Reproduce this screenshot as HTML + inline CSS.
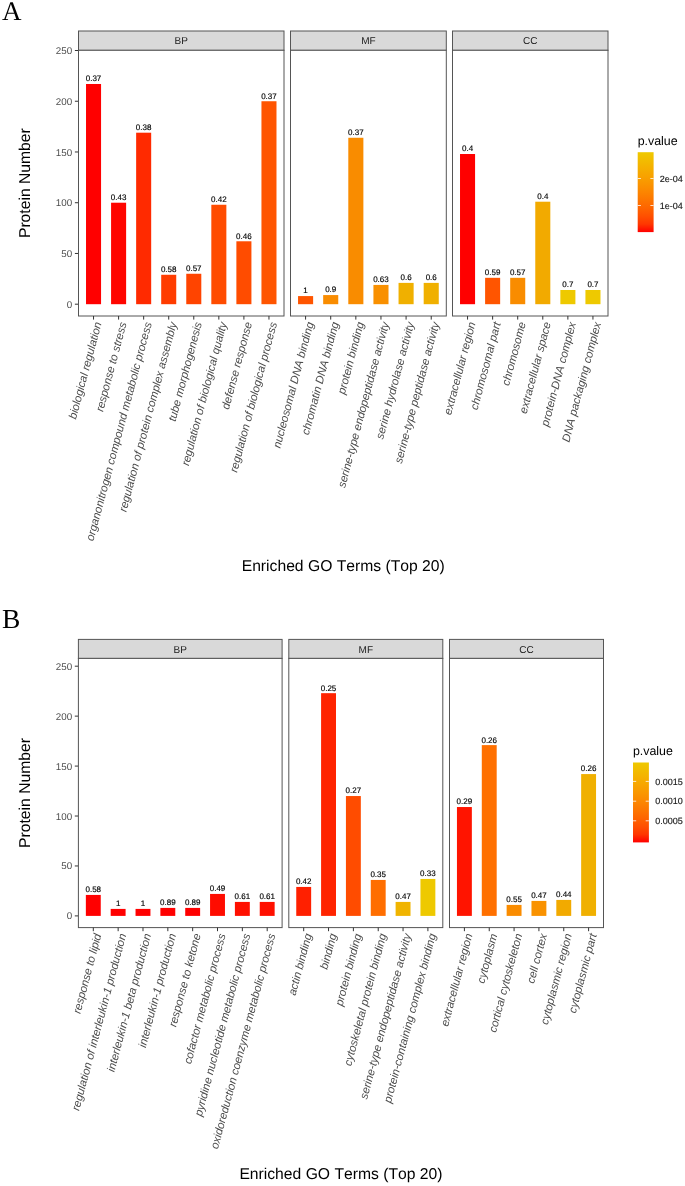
<!DOCTYPE html>
<html><head><meta charset="utf-8"><title>Enriched GO Terms</title>
<style>
html,body{margin:0;padding:0;background:#fff;width:685px;height:1186px;overflow:hidden;}
</style></head>
<body>
<svg width="685" height="1186" viewBox="0 0 685 1186" font-family='"Liberation Sans", sans-serif' style="display:block;will-change:transform;text-rendering:geometricPrecision;font-kerning:none;font-feature-settings:&quot;kern&quot; 0">
<rect width="685" height="1186" fill="#FFFFFF"/>
<text x="2" y="19.9" style='font-family:"Liberation Serif", serif' font-size="27" fill="#000">A</text>
<text x="72.2" y="307.73" font-size="9.8" fill="#4D4D4D" text-anchor="end">0</text>
<line x1="74.9" y1="304.2" x2="78.5" y2="304.2" stroke="#333" stroke-width="1"/>
<text x="72.2" y="256.99" font-size="9.8" fill="#4D4D4D" text-anchor="end">50</text>
<line x1="74.9" y1="253.46" x2="78.5" y2="253.46" stroke="#333" stroke-width="1"/>
<text x="72.2" y="206.25" font-size="9.8" fill="#4D4D4D" text-anchor="end">100</text>
<line x1="74.9" y1="202.72" x2="78.5" y2="202.72" stroke="#333" stroke-width="1"/>
<text x="72.2" y="155.51" font-size="9.8" fill="#4D4D4D" text-anchor="end">150</text>
<line x1="74.9" y1="151.98" x2="78.5" y2="151.98" stroke="#333" stroke-width="1"/>
<text x="72.2" y="104.77" font-size="9.8" fill="#4D4D4D" text-anchor="end">200</text>
<line x1="74.9" y1="101.24" x2="78.5" y2="101.24" stroke="#333" stroke-width="1"/>
<text x="72.2" y="54.03" font-size="9.8" fill="#4D4D4D" text-anchor="end">250</text>
<line x1="74.9" y1="50.5" x2="78.5" y2="50.5" stroke="#333" stroke-width="1"/>
<text transform="translate(30.1,183.15) rotate(-90)" font-size="15.7" fill="#000" text-anchor="middle">Protein Number</text>
<rect x="78.5" y="31" width="205.5" height="19.3" fill="#D9D9D9" stroke="#555555" stroke-width="1"/>
<text x="181.25" y="44.25" font-size="10.0" fill="#1A1A1A" text-anchor="middle">BP</text>
<rect x="78.5" y="50.3" width="205.5" height="265.7" fill="#FFFFFF" stroke="#555555" stroke-width="1"/>
<rect x="86.02" y="83.99" width="15.04" height="220.21" fill="#FF0000"/>
<text x="93.54" y="81.39" font-size="8.0" fill="#000" stroke="#000" stroke-width="0.15" text-anchor="middle">0.37</text>
<line x1="93.54" y1="316" x2="93.54" y2="319.6" stroke="#333" stroke-width="1"/>
<text transform="translate(93.54,321) rotate(-75.0)" font-size="11.3" font-style="italic" fill="#4D4D4D" text-anchor="end" dy="8.48">biological regulation</text>
<rect x="111.08" y="202.72" width="15.04" height="101.48" fill="#FF0500"/>
<text x="118.6" y="200.12" font-size="8.0" fill="#000" stroke="#000" stroke-width="0.15" text-anchor="middle">0.43</text>
<line x1="118.6" y1="316" x2="118.6" y2="319.6" stroke="#333" stroke-width="1"/>
<text transform="translate(118.6,321) rotate(-75.0)" font-size="11.3" font-style="italic" fill="#4D4D4D" text-anchor="end" dy="8.48">response to stress</text>
<rect x="136.14" y="132.7" width="15.04" height="171.5" fill="#FF2A00"/>
<text x="143.66" y="130.1" font-size="8.0" fill="#000" stroke="#000" stroke-width="0.15" text-anchor="middle">0.38</text>
<line x1="143.66" y1="316" x2="143.66" y2="319.6" stroke="#333" stroke-width="1"/>
<text transform="translate(143.66,321) rotate(-75.0)" font-size="11.3" font-style="italic" fill="#4D4D4D" text-anchor="end" dy="8.48">organonitrogen compound metabolic process</text>
<rect x="161.2" y="274.77" width="15.04" height="29.43" fill="#FF3C00"/>
<text x="168.72" y="272.17" font-size="8.0" fill="#000" stroke="#000" stroke-width="0.15" text-anchor="middle">0.58</text>
<line x1="168.72" y1="316" x2="168.72" y2="319.6" stroke="#333" stroke-width="1"/>
<text transform="translate(168.72,321) rotate(-75.0)" font-size="11.3" font-style="italic" fill="#4D4D4D" text-anchor="end" dy="8.48">regulation of protein complex assembly</text>
<rect x="186.26" y="273.76" width="15.04" height="30.44" fill="#FF4400"/>
<text x="193.78" y="271.16" font-size="8.0" fill="#000" stroke="#000" stroke-width="0.15" text-anchor="middle">0.57</text>
<line x1="193.78" y1="316" x2="193.78" y2="319.6" stroke="#333" stroke-width="1"/>
<text transform="translate(193.78,321) rotate(-75.0)" font-size="11.3" font-style="italic" fill="#4D4D4D" text-anchor="end" dy="8.48">tube morphogenesis</text>
<rect x="211.32" y="204.75" width="15.04" height="99.45" fill="#FF4C00"/>
<text x="218.84" y="202.15" font-size="8.0" fill="#000" stroke="#000" stroke-width="0.15" text-anchor="middle">0.42</text>
<line x1="218.84" y1="316" x2="218.84" y2="319.6" stroke="#333" stroke-width="1"/>
<text transform="translate(218.84,321) rotate(-75.0)" font-size="11.3" font-style="italic" fill="#4D4D4D" text-anchor="end" dy="8.48">regulation of biological quality</text>
<rect x="236.38" y="241.28" width="15.04" height="62.92" fill="#FF4C00"/>
<text x="243.9" y="238.68" font-size="8.0" fill="#000" stroke="#000" stroke-width="0.15" text-anchor="middle">0.46</text>
<line x1="243.9" y1="316" x2="243.9" y2="319.6" stroke="#333" stroke-width="1"/>
<text transform="translate(243.9,321) rotate(-75.0)" font-size="11.3" font-style="italic" fill="#4D4D4D" text-anchor="end" dy="8.48">defense response</text>
<rect x="261.45" y="101.24" width="15.04" height="202.96" fill="#FF5500"/>
<text x="268.96" y="98.64" font-size="8.0" fill="#000" stroke="#000" stroke-width="0.15" text-anchor="middle">0.37</text>
<line x1="268.96" y1="316" x2="268.96" y2="319.6" stroke="#333" stroke-width="1"/>
<text transform="translate(268.96,321) rotate(-75.0)" font-size="11.3" font-style="italic" fill="#4D4D4D" text-anchor="end" dy="8.48">regulation of biological process</text>
<rect x="290.5" y="31" width="155.8" height="19.3" fill="#D9D9D9" stroke="#555555" stroke-width="1"/>
<text x="368.4" y="44.25" font-size="10.0" fill="#1A1A1A" text-anchor="middle">MF</text>
<rect x="290.5" y="50.3" width="155.8" height="265.7" fill="#FFFFFF" stroke="#555555" stroke-width="1"/>
<rect x="298.04" y="296.08" width="15.08" height="8.12" fill="#FF5500"/>
<text x="305.58" y="293.48" font-size="8.0" fill="#000" stroke="#000" stroke-width="0.15" text-anchor="middle">1</text>
<line x1="305.58" y1="316" x2="305.58" y2="319.6" stroke="#333" stroke-width="1"/>
<text transform="translate(305.58,321) rotate(-75.0)" font-size="11.3" font-style="italic" fill="#4D4D4D" text-anchor="end" dy="8.48">nucleosomal DNA binding</text>
<rect x="323.17" y="295.07" width="15.08" height="9.13" fill="#F98C00"/>
<text x="330.71" y="292.47" font-size="8.0" fill="#000" stroke="#000" stroke-width="0.15" text-anchor="middle">0.9</text>
<line x1="330.71" y1="316" x2="330.71" y2="319.6" stroke="#333" stroke-width="1"/>
<text transform="translate(330.71,321) rotate(-75.0)" font-size="11.3" font-style="italic" fill="#4D4D4D" text-anchor="end" dy="8.48">chromatin DNA binding</text>
<rect x="348.3" y="137.77" width="15.08" height="166.43" fill="#F98C00"/>
<text x="355.84" y="135.17" font-size="8.0" fill="#000" stroke="#000" stroke-width="0.15" text-anchor="middle">0.37</text>
<line x1="355.84" y1="316" x2="355.84" y2="319.6" stroke="#333" stroke-width="1"/>
<text transform="translate(355.84,321) rotate(-75.0)" font-size="11.3" font-style="italic" fill="#4D4D4D" text-anchor="end" dy="8.48">protein binding</text>
<rect x="373.43" y="284.92" width="15.08" height="19.28" fill="#F99000"/>
<text x="380.96" y="282.32" font-size="8.0" fill="#000" stroke="#000" stroke-width="0.15" text-anchor="middle">0.63</text>
<line x1="380.96" y1="316" x2="380.96" y2="319.6" stroke="#333" stroke-width="1"/>
<text transform="translate(380.96,321) rotate(-75.0)" font-size="11.3" font-style="italic" fill="#4D4D4D" text-anchor="end" dy="8.48">serine-type endopeptidase activity</text>
<rect x="398.55" y="282.89" width="15.08" height="21.31" fill="#F0B000"/>
<text x="406.09" y="280.29" font-size="8.0" fill="#000" stroke="#000" stroke-width="0.15" text-anchor="middle">0.6</text>
<line x1="406.09" y1="316" x2="406.09" y2="319.6" stroke="#333" stroke-width="1"/>
<text transform="translate(406.09,321) rotate(-75.0)" font-size="11.3" font-style="italic" fill="#4D4D4D" text-anchor="end" dy="8.48">serine hydrolase activity</text>
<rect x="423.68" y="282.89" width="15.08" height="21.31" fill="#F0B000"/>
<text x="431.22" y="280.29" font-size="8.0" fill="#000" stroke="#000" stroke-width="0.15" text-anchor="middle">0.6</text>
<line x1="431.22" y1="316" x2="431.22" y2="319.6" stroke="#333" stroke-width="1"/>
<text transform="translate(431.22,321) rotate(-75.0)" font-size="11.3" font-style="italic" fill="#4D4D4D" text-anchor="end" dy="8.48">serine-type peptidase activity</text>
<rect x="452.5" y="31" width="155.5" height="19.3" fill="#D9D9D9" stroke="#555555" stroke-width="1"/>
<text x="530.25" y="44.25" font-size="10.0" fill="#1A1A1A" text-anchor="middle">CC</text>
<rect x="452.5" y="50.3" width="155.5" height="265.7" fill="#FFFFFF" stroke="#555555" stroke-width="1"/>
<rect x="460.02" y="154.01" width="15.05" height="150.19" fill="#FF0000"/>
<text x="467.55" y="151.41" font-size="8.0" fill="#000" stroke="#000" stroke-width="0.15" text-anchor="middle">0.4</text>
<line x1="467.55" y1="316" x2="467.55" y2="319.6" stroke="#333" stroke-width="1"/>
<text transform="translate(467.55,321) rotate(-75.0)" font-size="11.3" font-style="italic" fill="#4D4D4D" text-anchor="end" dy="8.48">extracellular region</text>
<rect x="485.1" y="277.82" width="15.05" height="26.38" fill="#FF5500"/>
<text x="492.63" y="275.22" font-size="8.0" fill="#000" stroke="#000" stroke-width="0.15" text-anchor="middle">0.59</text>
<line x1="492.63" y1="316" x2="492.63" y2="319.6" stroke="#333" stroke-width="1"/>
<text transform="translate(492.63,321) rotate(-75.0)" font-size="11.3" font-style="italic" fill="#4D4D4D" text-anchor="end" dy="8.48">chromosomal part</text>
<rect x="510.19" y="277.82" width="15.05" height="26.38" fill="#F98C00"/>
<text x="517.71" y="275.22" font-size="8.0" fill="#000" stroke="#000" stroke-width="0.15" text-anchor="middle">0.57</text>
<line x1="517.71" y1="316" x2="517.71" y2="319.6" stroke="#333" stroke-width="1"/>
<text transform="translate(517.71,321) rotate(-75.0)" font-size="11.3" font-style="italic" fill="#4D4D4D" text-anchor="end" dy="8.48">chromosome</text>
<rect x="535.27" y="201.71" width="15.05" height="102.49" fill="#F2AA00"/>
<text x="542.79" y="199.11" font-size="8.0" fill="#000" stroke="#000" stroke-width="0.15" text-anchor="middle">0.4</text>
<line x1="542.79" y1="316" x2="542.79" y2="319.6" stroke="#333" stroke-width="1"/>
<text transform="translate(542.79,321) rotate(-75.0)" font-size="11.3" font-style="italic" fill="#4D4D4D" text-anchor="end" dy="8.48">extracellular space</text>
<rect x="560.35" y="289.99" width="15.05" height="14.21" fill="#EEC900"/>
<text x="567.87" y="287.39" font-size="8.0" fill="#000" stroke="#000" stroke-width="0.15" text-anchor="middle">0.7</text>
<line x1="567.87" y1="316" x2="567.87" y2="319.6" stroke="#333" stroke-width="1"/>
<text transform="translate(567.87,321) rotate(-75.0)" font-size="11.3" font-style="italic" fill="#4D4D4D" text-anchor="end" dy="8.48">protein-DNA complex</text>
<rect x="585.43" y="289.99" width="15.05" height="14.21" fill="#EEC900"/>
<text x="592.95" y="287.39" font-size="8.0" fill="#000" stroke="#000" stroke-width="0.15" text-anchor="middle">0.7</text>
<line x1="592.95" y1="316" x2="592.95" y2="319.6" stroke="#333" stroke-width="1"/>
<text transform="translate(592.95,321) rotate(-75.0)" font-size="11.3" font-style="italic" fill="#4D4D4D" text-anchor="end" dy="8.48">DNA packaging complex</text>
<text x="343.25" y="570.9" font-size="15.7" fill="#000" text-anchor="middle">Enriched GO Terms (Top 20)</text>
<text x="637.7" y="144.8" font-size="12.4" fill="#000">p.value</text>
<defs><linearGradient id="g0" x1="0" y1="1" x2="0" y2="0"><stop offset="0.0" stop-color="#FF0000"/><stop offset="0.1" stop-color="#FF3700"/><stop offset="0.2" stop-color="#FF5000"/><stop offset="0.3" stop-color="#FE6400"/><stop offset="0.4" stop-color="#FD7500"/><stop offset="0.5" stop-color="#FC8500"/><stop offset="0.6" stop-color="#FA9400"/><stop offset="0.7" stop-color="#F8A200"/><stop offset="0.8" stop-color="#F5AF00"/><stop offset="0.9" stop-color="#F2BC00"/><stop offset="1.0" stop-color="#EEC900"/></linearGradient></defs>
<rect x="637.7" y="152.2" width="15.9" height="79.9" fill="url(#g0)"/>
<line x1="637.7" y1="178.5" x2="640.9" y2="178.5" stroke="#FFFFFF" stroke-width="0.8"/>
<line x1="650.4" y1="178.5" x2="653.6" y2="178.5" stroke="#FFFFFF" stroke-width="0.8"/>
<text x="659.8" y="181.74" font-size="9.0" fill="#1A1A1A" stroke="#1A1A1A" stroke-width="0.15">2e-04</text>
<line x1="637.7" y1="205.5" x2="640.9" y2="205.5" stroke="#FFFFFF" stroke-width="0.8"/>
<line x1="650.4" y1="205.5" x2="653.6" y2="205.5" stroke="#FFFFFF" stroke-width="0.8"/>
<text x="659.8" y="208.74" font-size="9.0" fill="#1A1A1A" stroke="#1A1A1A" stroke-width="0.15">1e-04</text>
<text x="2" y="628.4" style='font-family:"Liberation Serif", serif' font-size="27.5" fill="#000">B</text>
<text x="72.1" y="919.43" font-size="9.8" fill="#4D4D4D" text-anchor="end">0</text>
<line x1="74.8" y1="915.9" x2="78.4" y2="915.9" stroke="#333" stroke-width="1"/>
<text x="72.1" y="869.49" font-size="9.8" fill="#4D4D4D" text-anchor="end">50</text>
<line x1="74.8" y1="865.96" x2="78.4" y2="865.96" stroke="#333" stroke-width="1"/>
<text x="72.1" y="819.55" font-size="9.8" fill="#4D4D4D" text-anchor="end">100</text>
<line x1="74.8" y1="816.02" x2="78.4" y2="816.02" stroke="#333" stroke-width="1"/>
<text x="72.1" y="769.61" font-size="9.8" fill="#4D4D4D" text-anchor="end">150</text>
<line x1="74.8" y1="766.08" x2="78.4" y2="766.08" stroke="#333" stroke-width="1"/>
<text x="72.1" y="719.67" font-size="9.8" fill="#4D4D4D" text-anchor="end">200</text>
<line x1="74.8" y1="716.14" x2="78.4" y2="716.14" stroke="#333" stroke-width="1"/>
<text x="72.1" y="669.73" font-size="9.8" fill="#4D4D4D" text-anchor="end">250</text>
<line x1="74.8" y1="666.2" x2="78.4" y2="666.2" stroke="#333" stroke-width="1"/>
<text transform="translate(30.1,793) rotate(-90)" font-size="15.7" fill="#000" text-anchor="middle">Protein Number</text>
<rect x="78.4" y="639.4" width="203.7" height="19" fill="#D9D9D9" stroke="#555555" stroke-width="1"/>
<text x="180.25" y="652.5" font-size="10.0" fill="#1A1A1A" text-anchor="middle">BP</text>
<rect x="78.4" y="658.4" width="203.7" height="269.2" fill="#FFFFFF" stroke="#555555" stroke-width="1"/>
<rect x="85.85" y="894.93" width="14.9" height="20.97" fill="#FF0000"/>
<text x="93.3" y="892.33" font-size="8.0" fill="#000" stroke="#000" stroke-width="0.15" text-anchor="middle">0.58</text>
<line x1="93.3" y1="927.6" x2="93.3" y2="931.2" stroke="#333" stroke-width="1"/>
<text transform="translate(93.3,932.6) rotate(-75.0)" font-size="11.3" font-style="italic" fill="#4D4D4D" text-anchor="end" dy="8.48">response to lipid</text>
<rect x="110.69" y="908.91" width="14.9" height="6.99" fill="#FF0000"/>
<text x="118.15" y="906.31" font-size="8.0" fill="#000" stroke="#000" stroke-width="0.15" text-anchor="middle">1</text>
<line x1="118.15" y1="927.6" x2="118.15" y2="931.2" stroke="#333" stroke-width="1"/>
<text transform="translate(118.15,932.6) rotate(-75.0)" font-size="11.3" font-style="italic" fill="#4D4D4D" text-anchor="end" dy="8.48">regulation of interleukin-1 production</text>
<rect x="135.54" y="908.91" width="14.9" height="6.99" fill="#FF0000"/>
<text x="142.99" y="906.31" font-size="8.0" fill="#000" stroke="#000" stroke-width="0.15" text-anchor="middle">1</text>
<line x1="142.99" y1="927.6" x2="142.99" y2="931.2" stroke="#333" stroke-width="1"/>
<text transform="translate(142.99,932.6) rotate(-75.0)" font-size="11.3" font-style="italic" fill="#4D4D4D" text-anchor="end" dy="8.48">interleukin-1 beta production</text>
<rect x="160.38" y="907.91" width="14.9" height="7.99" fill="#FF0000"/>
<text x="167.83" y="905.31" font-size="8.0" fill="#000" stroke="#000" stroke-width="0.15" text-anchor="middle">0.89</text>
<line x1="167.83" y1="927.6" x2="167.83" y2="931.2" stroke="#333" stroke-width="1"/>
<text transform="translate(167.83,932.6) rotate(-75.0)" font-size="11.3" font-style="italic" fill="#4D4D4D" text-anchor="end" dy="8.48">interleukin-1 production</text>
<rect x="185.22" y="907.91" width="14.9" height="7.99" fill="#FF0000"/>
<text x="192.67" y="905.31" font-size="8.0" fill="#000" stroke="#000" stroke-width="0.15" text-anchor="middle">0.89</text>
<line x1="192.67" y1="927.6" x2="192.67" y2="931.2" stroke="#333" stroke-width="1"/>
<text transform="translate(192.67,932.6) rotate(-75.0)" font-size="11.3" font-style="italic" fill="#4D4D4D" text-anchor="end" dy="8.48">response to ketone</text>
<rect x="210.06" y="893.93" width="14.9" height="21.97" fill="#FF0C00"/>
<text x="217.51" y="891.33" font-size="8.0" fill="#000" stroke="#000" stroke-width="0.15" text-anchor="middle">0.49</text>
<line x1="217.51" y1="927.6" x2="217.51" y2="931.2" stroke="#333" stroke-width="1"/>
<text transform="translate(217.51,932.6) rotate(-75.0)" font-size="11.3" font-style="italic" fill="#4D4D4D" text-anchor="end" dy="8.48">cofactor metabolic process</text>
<rect x="234.9" y="901.92" width="14.9" height="13.98" fill="#FF1000"/>
<text x="242.35" y="899.32" font-size="8.0" fill="#000" stroke="#000" stroke-width="0.15" text-anchor="middle">0.61</text>
<line x1="242.35" y1="927.6" x2="242.35" y2="931.2" stroke="#333" stroke-width="1"/>
<text transform="translate(242.35,932.6) rotate(-75.0)" font-size="11.3" font-style="italic" fill="#4D4D4D" text-anchor="end" dy="8.48">pyridine nucleotide metabolic process</text>
<rect x="259.74" y="901.92" width="14.9" height="13.98" fill="#FF1000"/>
<text x="267.2" y="899.32" font-size="8.0" fill="#000" stroke="#000" stroke-width="0.15" text-anchor="middle">0.61</text>
<line x1="267.2" y1="927.6" x2="267.2" y2="931.2" stroke="#333" stroke-width="1"/>
<text transform="translate(267.2,932.6) rotate(-75.0)" font-size="11.3" font-style="italic" fill="#4D4D4D" text-anchor="end" dy="8.48">oxidoreduction coenzyme metabolic process</text>
<rect x="288.8" y="639.4" width="154" height="19" fill="#D9D9D9" stroke="#555555" stroke-width="1"/>
<text x="365.8" y="652.5" font-size="10.0" fill="#1A1A1A" text-anchor="middle">MF</text>
<rect x="288.8" y="658.4" width="154" height="269.2" fill="#FFFFFF" stroke="#555555" stroke-width="1"/>
<rect x="296.25" y="886.93" width="14.9" height="28.97" fill="#FF2000"/>
<text x="303.7" y="884.33" font-size="8.0" fill="#000" stroke="#000" stroke-width="0.15" text-anchor="middle">0.42</text>
<line x1="303.7" y1="927.6" x2="303.7" y2="931.2" stroke="#333" stroke-width="1"/>
<text transform="translate(303.7,932.6) rotate(-75.0)" font-size="11.3" font-style="italic" fill="#4D4D4D" text-anchor="end" dy="8.48">actin binding</text>
<rect x="321.09" y="693.17" width="14.9" height="222.73" fill="#FF2400"/>
<text x="328.54" y="690.57" font-size="8.0" fill="#000" stroke="#000" stroke-width="0.15" text-anchor="middle">0.25</text>
<line x1="328.54" y1="927.6" x2="328.54" y2="931.2" stroke="#333" stroke-width="1"/>
<text transform="translate(328.54,932.6) rotate(-75.0)" font-size="11.3" font-style="italic" fill="#4D4D4D" text-anchor="end" dy="8.48">binding</text>
<rect x="345.93" y="796.04" width="14.9" height="119.86" fill="#FF4C00"/>
<text x="353.38" y="793.44" font-size="8.0" fill="#000" stroke="#000" stroke-width="0.15" text-anchor="middle">0.27</text>
<line x1="353.38" y1="927.6" x2="353.38" y2="931.2" stroke="#333" stroke-width="1"/>
<text transform="translate(353.38,932.6) rotate(-75.0)" font-size="11.3" font-style="italic" fill="#4D4D4D" text-anchor="end" dy="8.48">protein binding</text>
<rect x="370.77" y="879.94" width="14.9" height="35.96" fill="#FF6E00"/>
<text x="378.22" y="877.34" font-size="8.0" fill="#000" stroke="#000" stroke-width="0.15" text-anchor="middle">0.35</text>
<line x1="378.22" y1="927.6" x2="378.22" y2="931.2" stroke="#333" stroke-width="1"/>
<text transform="translate(378.22,932.6) rotate(-75.0)" font-size="11.3" font-style="italic" fill="#4D4D4D" text-anchor="end" dy="8.48">cytoskeletal protein binding</text>
<rect x="395.61" y="901.92" width="14.9" height="13.98" fill="#F0B400"/>
<text x="403.06" y="899.32" font-size="8.0" fill="#000" stroke="#000" stroke-width="0.15" text-anchor="middle">0.47</text>
<line x1="403.06" y1="927.6" x2="403.06" y2="931.2" stroke="#333" stroke-width="1"/>
<text transform="translate(403.06,932.6) rotate(-75.0)" font-size="11.3" font-style="italic" fill="#4D4D4D" text-anchor="end" dy="8.48">serine-type endopeptidase activity</text>
<rect x="420.45" y="878.94" width="14.9" height="36.96" fill="#EEC900"/>
<text x="427.9" y="876.34" font-size="8.0" fill="#000" stroke="#000" stroke-width="0.15" text-anchor="middle">0.33</text>
<line x1="427.9" y1="927.6" x2="427.9" y2="931.2" stroke="#333" stroke-width="1"/>
<text transform="translate(427.9,932.6) rotate(-75.0)" font-size="11.3" font-style="italic" fill="#4D4D4D" text-anchor="end" dy="8.48">protein-containing complex binding</text>
<rect x="449.5" y="639.4" width="154" height="19" fill="#D9D9D9" stroke="#555555" stroke-width="1"/>
<text x="526.5" y="652.5" font-size="10.0" fill="#1A1A1A" text-anchor="middle">CC</text>
<rect x="449.5" y="658.4" width="154" height="269.2" fill="#FFFFFF" stroke="#555555" stroke-width="1"/>
<rect x="456.95" y="807.03" width="14.9" height="108.87" fill="#FF1400"/>
<text x="464.4" y="804.43" font-size="8.0" fill="#000" stroke="#000" stroke-width="0.15" text-anchor="middle">0.29</text>
<line x1="464.4" y1="927.6" x2="464.4" y2="931.2" stroke="#333" stroke-width="1"/>
<text transform="translate(464.4,932.6) rotate(-75.0)" font-size="11.3" font-style="italic" fill="#4D4D4D" text-anchor="end" dy="8.48">extracellular region</text>
<rect x="481.79" y="745.11" width="14.9" height="170.79" fill="#FF7000"/>
<text x="489.24" y="742.51" font-size="8.0" fill="#000" stroke="#000" stroke-width="0.15" text-anchor="middle">0.26</text>
<line x1="489.24" y1="927.6" x2="489.24" y2="931.2" stroke="#333" stroke-width="1"/>
<text transform="translate(489.24,932.6) rotate(-75.0)" font-size="11.3" font-style="italic" fill="#4D4D4D" text-anchor="end" dy="8.48">cytoplasm</text>
<rect x="506.63" y="904.91" width="14.9" height="10.99" fill="#FA8C00"/>
<text x="514.08" y="902.31" font-size="8.0" fill="#000" stroke="#000" stroke-width="0.15" text-anchor="middle">0.55</text>
<line x1="514.08" y1="927.6" x2="514.08" y2="931.2" stroke="#333" stroke-width="1"/>
<text transform="translate(514.08,932.6) rotate(-75.0)" font-size="11.3" font-style="italic" fill="#4D4D4D" text-anchor="end" dy="8.48">cortical cytoskeleton</text>
<rect x="531.47" y="900.92" width="14.9" height="14.98" fill="#F99200"/>
<text x="538.92" y="898.32" font-size="8.0" fill="#000" stroke="#000" stroke-width="0.15" text-anchor="middle">0.47</text>
<line x1="538.92" y1="927.6" x2="538.92" y2="931.2" stroke="#333" stroke-width="1"/>
<text transform="translate(538.92,932.6) rotate(-75.0)" font-size="11.3" font-style="italic" fill="#4D4D4D" text-anchor="end" dy="8.48">cell cortex</text>
<rect x="556.31" y="899.92" width="14.9" height="15.98" fill="#F2AA00"/>
<text x="563.76" y="897.32" font-size="8.0" fill="#000" stroke="#000" stroke-width="0.15" text-anchor="middle">0.44</text>
<line x1="563.76" y1="927.6" x2="563.76" y2="931.2" stroke="#333" stroke-width="1"/>
<text transform="translate(563.76,932.6) rotate(-75.0)" font-size="11.3" font-style="italic" fill="#4D4D4D" text-anchor="end" dy="8.48">cytoplasmic region</text>
<rect x="581.15" y="774.07" width="14.9" height="141.83" fill="#F0B000"/>
<text x="588.6" y="771.47" font-size="8.0" fill="#000" stroke="#000" stroke-width="0.15" text-anchor="middle">0.26</text>
<line x1="588.6" y1="927.6" x2="588.6" y2="931.2" stroke="#333" stroke-width="1"/>
<text transform="translate(588.6,932.6) rotate(-75.0)" font-size="11.3" font-style="italic" fill="#4D4D4D" text-anchor="end" dy="8.48">cytoplasmic part</text>
<text x="340.95" y="1179" font-size="15.7" fill="#000" text-anchor="middle">Enriched GO Terms (Top 20)</text>
<text x="632.9" y="754.8" font-size="12.4" fill="#000">p.value</text>
<defs><linearGradient id="g1" x1="0" y1="1" x2="0" y2="0"><stop offset="0.0" stop-color="#FF0000"/><stop offset="0.1" stop-color="#FF3700"/><stop offset="0.2" stop-color="#FF5000"/><stop offset="0.3" stop-color="#FE6400"/><stop offset="0.4" stop-color="#FD7500"/><stop offset="0.5" stop-color="#FC8500"/><stop offset="0.6" stop-color="#FA9400"/><stop offset="0.7" stop-color="#F8A200"/><stop offset="0.8" stop-color="#F5AF00"/><stop offset="0.9" stop-color="#F2BC00"/><stop offset="1.0" stop-color="#EEC900"/></linearGradient></defs>
<rect x="633" y="762.5" width="15.9" height="79.9" fill="url(#g1)"/>
<line x1="633" y1="781.4" x2="636.2" y2="781.4" stroke="#FFFFFF" stroke-width="0.8"/>
<line x1="645.7" y1="781.4" x2="648.9" y2="781.4" stroke="#FFFFFF" stroke-width="0.8"/>
<text x="655.2" y="784.64" font-size="9.0" fill="#1A1A1A" stroke="#1A1A1A" stroke-width="0.15">0.0015</text>
<line x1="633" y1="801.2" x2="636.2" y2="801.2" stroke="#FFFFFF" stroke-width="0.8"/>
<line x1="645.7" y1="801.2" x2="648.9" y2="801.2" stroke="#FFFFFF" stroke-width="0.8"/>
<text x="655.2" y="804.44" font-size="9.0" fill="#1A1A1A" stroke="#1A1A1A" stroke-width="0.15">0.0010</text>
<line x1="633" y1="820.8" x2="636.2" y2="820.8" stroke="#FFFFFF" stroke-width="0.8"/>
<line x1="645.7" y1="820.8" x2="648.9" y2="820.8" stroke="#FFFFFF" stroke-width="0.8"/>
<text x="655.2" y="824.04" font-size="9.0" fill="#1A1A1A" stroke="#1A1A1A" stroke-width="0.15">0.0005</text>
</svg>
</body></html>
